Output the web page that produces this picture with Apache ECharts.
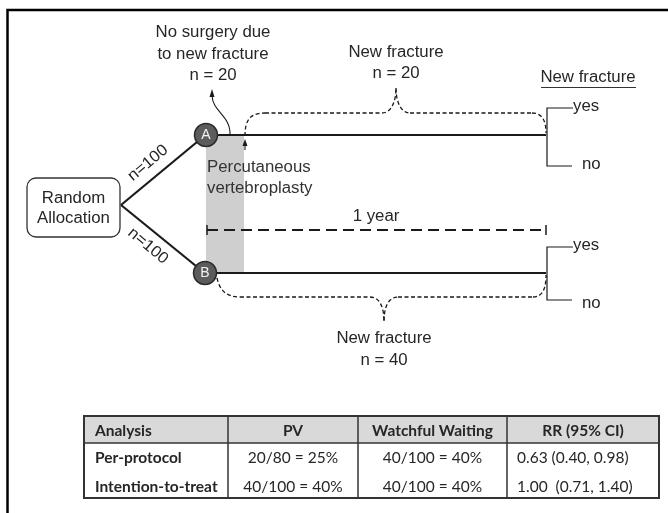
<!DOCTYPE html>
<html><head><meta charset="utf-8">
<script src="https://cdn.jsdelivr.net/npm/echarts@6/dist/echarts.min.js"></script>
<style>html,body{margin:0;padding:0;background:#fff}#c{width:668px;height:513px}</style>
</head><body><div id="c"></div>
<script>
// ---- data ----
const arms = ['A', 'B'];
const allocated = [100, 100];
const noSurgery = 20;
const newFracture = [20, 40];
const outcomeLabels = ['yes', 'no'];
const followUp = '1 year';
const tableHeader = ['Analysis', 'PV', 'Watchful Waiting', 'RR (95% CI)'];
const tableRowLabels = ['Per-protocol', 'Intention-to-treat'];
const pvValues = ['20/80 = 25%', '40/100 = 40%'];
const wwValues = ['40/100 = 40%', '40/100 = 40%'];
const rrValues = ['0.63 (0.40, 0.98)', '1.00  (0.71, 1.40)'];

function renderItem(params, api) {
  const P = (x, y) => api.coord([x, y]);
  const kids = [];
  const INK = '#1a1a1a', TXT = '#262626';
  const F = '16px "Liberation Sans", Arial, sans-serif';
  const TF = '15.5px Lato, "Open Sans", sans-serif';
  const TFB = 'bold 15.5px Lato, "Open Sans", sans-serif';
  function line(x1, y1, x2, y2, w, dash, color) {
    const a = P(x1, y1), b = P(x2, y2);
    kids.push({type: 'line', shape: {x1: a[0], y1: a[1], x2: b[0], y2: b[1]},
      style: {stroke: color || INK, lineWidth: w || 1, lineDash: dash || null, fill: null}});
  }
  function poly(pts, w, color) {
    kids.push({type: 'polyline', shape: {points: pts.map(p => P(p[0], p[1]))},
      style: {stroke: color || INK, lineWidth: w || 1, fill: null, lineJoin: 'miter'}});
  }
  function bez(x1, y1, c1x, c1y, c2x, c2y, x2, y2, w, dash) {
    const a = P(x1, y1), b = P(x2, y2), c = P(c1x, c1y), d = P(c2x, c2y);
    kids.push({type: 'bezierCurve', shape: {x1: a[0], y1: a[1], x2: b[0], y2: b[1], cpx1: c[0], cpy1: c[1], cpx2: d[0], cpy2: d[1]},
      style: {stroke: INK, lineWidth: w || 1, lineDash: dash || null, fill: null}});
  }
  function text(s, x, y, o) {
    o = o || {};
    const a = P(x, y);
    const sx = o.sx != null ? o.sx : 1.05;
    kids.push({type: 'text', x: a[0], y: a[1], rotation: o.rot || 0, scaleX: sx,
      style: {text: s, x: 0, y: 0, font: o.font || F, fill: o.fill || TXT, align: o.align || 'center', verticalAlign: 'middle'}});
  }
  function rect(x, y, w, h, fill, stroke, lw, r) {
    const a = P(x, y), b = P(x + w, y + h);
    kids.push({type: 'rect', shape: {x: a[0], y: a[1], width: b[0] - a[0], height: b[1] - a[1], r: r || 0},
      style: {fill: fill, stroke: stroke || null, lineWidth: lw || 0}});
  }
  function circle(x, y, r, fill, stroke, lw) {
    const a = P(x, y);
    kids.push({type: 'circle', shape: {cx: a[0], cy: a[1], r: r}, style: {fill: fill, stroke: stroke, lineWidth: lw}});
  }
  function arrowUp(x, y, w, h) {
    kids.push({type: 'polygon', shape: {points: [P(x, y), P(x - w / 2, y + h), P(x + w / 2, y + h)]}, style: {fill: INK}});
  }

  // frame
  poly([[7.5, 513], [7.5, 10], [668, 10]], 2.5, '#000');

  // PV shaded period
  rect(206, 135, 38, 138, '#cfcfcf');

  // random allocation box
  rect(27, 178, 93, 59, '#fff', '#333', 1.3, 9);
  text('Random', 73.5, 199);
  text('Allocation', 73.5, 219);

  // branches
  line(121, 205, 197, 142, 2.2);
  line(121, 205, 196, 266, 2.2);
  text('n=' + allocated[0], 148, 163, {rot: 40 * Math.PI / 180});
  text('n=' + allocated[1], 148, 246, {rot: -40 * Math.PI / 180});

  // arms timelines
  line(217, 135, 546, 135, 2.2);
  line(216, 273, 546, 273, 2.2);

  // arm circles
  circle(206, 135, 11.5, '#5c5c5c', '#2a2a2a', 1.5);
  circle(205, 273, 11.5, '#5c5c5c', '#2a2a2a', 1.5);
  text(arms[0], 206, 135, {font: '14px "Liberation Sans", Arial, sans-serif', fill: '#f2f2f2', sx: 1});
  text(arms[1], 205, 273, {font: '14px "Liberation Sans", Arial, sans-serif', fill: '#f2f2f2', sx: 1});

  // PV label
  text('Percutaneous', 207, 168, {align: 'left', fill: '#333'});
  text('vertebroplasty', 207, 189, {align: 'left', fill: '#333'});

  // no surgery note + curved arrow
  text('No surgery due', 213, 33);
  text('to new fracture', 213, 55);
  text('n = ' + noSurgery, 213, 76);
  bez(230, 135, 231, 116, 213, 112, 212, 96, 1.1);
  arrowUp(212, 89, 5, 8);

  // small arrow to upper brace
  line(245, 150, 245, 144, 1.1);
  arrowUp(245, 139, 5, 7);

  // upper brace
  const D = [4, 2.5];
  bez(245, 136, 245, 120, 250, 113, 265, 113, 1.3, D);
  line(265, 113, 382, 113, 1.3, D);
  bez(382, 113, 392, 113, 396, 100, 396, 88, 1.3, D);
  bez(396, 88, 396, 100, 400, 113, 410, 113, 1.3, D);
  line(410, 113, 532, 113, 1.3, D);
  bez(532, 113, 543, 113, 546, 122, 546, 133, 1.3, D);
  text('New fracture', 396, 53);
  text('n = ' + newFracture[0], 396, 74);

  // lower brace
  bez(217, 278, 220, 292, 228, 297, 240, 297, 1.3, D);
  line(240, 297, 370, 297, 1.3, D);
  bez(370, 297, 380, 297, 384, 308, 384, 321, 1.3, D);
  bez(384, 321, 384, 308, 388, 297, 398, 297, 1.3, D);
  line(398, 297, 533, 297, 1.3, D);
  bez(533, 297, 543, 297, 546, 288, 546, 275, 1.3, D);
  text('New fracture', 384, 339);
  text('n = ' + newFracture[1], 384, 361);

  // outcome header
  text('New fracture', 588, 78);
  line(541, 87.5, 636, 87.5, 1.2, null, '#333');

  // outcome branches
  poly([[573, 108], [547, 108], [547, 166], [572, 166]], 1.2);
  text(outcomeLabels[0], 573, 107, {align: 'left'});
  text(outcomeLabels[1], 582, 165, {align: 'left'});
  poly([[573, 247], [547, 247], [547, 300], [572, 300]], 1.2);
  text(outcomeLabels[0], 573, 246, {align: 'left'});
  text(outcomeLabels[1], 582, 304, {align: 'left'});

  // 1 year
  line(207, 230, 546, 230, 2, [11, 6]);
  line(207, 225, 207, 235, 1.5);
  line(546, 225, 546, 235, 1.5);
  text(followUp, 376, 217);

  // table
  const cx = [84, 228, 358, 507, 659];
  const ty = [416, 443, 498];
  rect(cx[0], ty[0], cx[4] - cx[0], ty[1] - ty[0], '#d9d9d9');
  line(cx[0], ty[1], cx[4], ty[1], 1.5, null, '#333');
  for (let i = 1; i < 4; i++) line(cx[i], ty[0], cx[i], ty[2], 1.5, null, '#333');
  rect(cx[0], ty[0], cx[4] - cx[0], ty[2] - ty[0], null, '#333', 2);
  const hy = 431;
  text(tableHeader[0], 95, hy, {font: TFB, align: 'left', sx: 1});
  text(tableHeader[1], (cx[1] + cx[2]) / 2, hy, {font: TFB, sx: 1});
  text(tableHeader[2], (cx[2] + cx[3]) / 2, hy, {font: TFB, sx: 1});
  text(tableHeader[3], (cx[3] + cx[4]) / 2, hy, {font: TFB, sx: 1});
  const ry = [458, 487];
  for (let r = 0; r < 2; r++) {
    text(tableRowLabels[r], 95, ry[r], {font: TFB, align: 'left', sx: 1});
    text(pvValues[r], (cx[1] + cx[2]) / 2, ry[r], {font: TF, sx: 1});
    text(wwValues[r], (cx[2] + cx[3]) / 2, ry[r], {font: TF, sx: 1});
    text(rrValues[r], 517, ry[r], {font: TF, align: 'left', sx: 1});
  }
  return {type: 'group', children: kids};
}

const chart = echarts.init(document.getElementById('c'), null, {renderer: 'canvas'});
chart.setOption({
  animation: false,
  backgroundColor: '#fff',
  grid: {left: 0, right: 0, top: 0, bottom: 0, containLabel: false},
  xAxis: {type: 'value', min: 0, max: 668, show: false},
  yAxis: {type: 'value', min: 0, max: 513, inverse: true, show: false},
  series: [{type: 'custom', coordinateSystem: 'cartesian2d', clip: false, silent: true,
    renderItem: renderItem, data: [[0, 0]]}]
});
</script></body></html>
